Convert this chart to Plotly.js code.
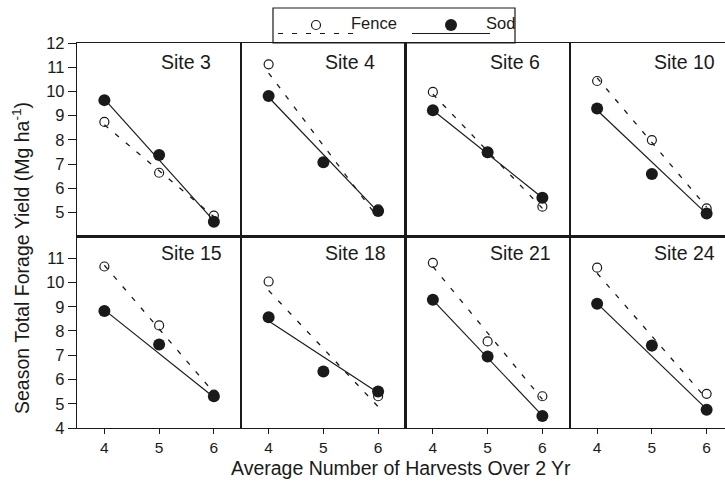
<!DOCTYPE html>
<html>
<head>
<meta charset="utf-8">
<script src="https://cdn.plot.ly/plotly-3.0.1.min.js"></script>
<style>
  html, body { margin: 0; padding: 0; overflow: hidden; background: #fff; }
  #chart { width: 740px; height: 483px; }
</style>
</head>
<body>
<div id="chart"></div>
<script>
// Season total forage yield vs. average number of harvests, by site
const sites = ['Site 3', 'Site 4', 'Site 6', 'Site 10', 'Site 15', 'Site 18', 'Site 21', 'Site 24'];
const harvests = [4, 5, 6];
const harvestTicks = [4, 5, 6];
const topRowTicks = [5, 6, 7, 8, 9, 10, 11, 12];
const bottomRowTicks = [4, 5, 6, 7, 8, 9, 10, 11];

// Observed yields (Mg/ha) at 4, 5 and 6 harvests
const fenceYield = [
  [8.74, 6.64, 4.87], [11.12, 7.05, 5.13], [9.98, 7.45, 5.24], [10.43, 7.99, 5.17],
  [10.66, 8.23, 5.38], [10.04, 6.35, 5.31], [10.81, 7.57, 5.31], [10.61, 7.36, 5.41]
];
const sodYield = [
  [9.64, 7.37, 4.62], [9.81, 7.07, 5.06], [9.22, 7.49, 5.61], [9.29, 6.59, 4.96],
  [8.82, 7.44, 5.31], [8.57, 6.33, 5.51], [9.29, 6.95, 4.49], [9.12, 7.40, 4.75]
];

// Fitted regression lines, value at 4 and at 6 harvests
const fitHarvests = [4, 6];
const fenceFit = [
  [8.62, 4.82], [10.76, 4.77], [9.89, 5.17], [10.56, 5.22],
  [10.71, 5.46], [9.67, 4.88], [10.66, 5.18], [10.38, 5.20]
];
const sodFit = [
  [9.68, 4.65], [9.76, 5.02], [9.22, 5.61], [9.22, 4.94],
  [8.87, 5.27], [8.41, 5.45], [9.27, 4.51], [9.14, 4.78]
];

const legendLabels = ['Fence', 'Sod'];

// ---- page geometry ----
const W = 740, H = 483;
const M = { l: 77, r: 6, t: 43, b: 55 };
const plotW = W - M.l - M.r, plotH = H - M.t - M.b;
const rowSplit = 0.497;
const yRanges = [[4, 12], [4, 11.89]];

const FONT = 'Liberation Sans, Arial, Helvetica, sans-serif';
const INK = '#1a1a1a';

// pixel -> paper helpers for the frame decorations
const px = v => (v - M.l) / plotW;
const py = v => (H - M.b - v) / plotH;

const traces = [];
const layout = {
  width: W, height: H,
  margin: M,
  paper_bgcolor: '#fff', plot_bgcolor: '#fff',
  showlegend: false,
  font: { family: FONT, size: 16, color: INK },
  annotations: [],
  shapes: []
};

sites.forEach((name, i) => {
  const col = i % 4, row = Math.floor(i / 4);
  const n = i === 0 ? '' : String(i + 1);
  const xa = 'x' + n, ya = 'y' + n;

  traces.push({
    x: harvests, y: fenceYield[i], xaxis: xa, yaxis: ya, mode: 'markers', cliponaxis: false,
    marker: { symbol: 'circle-open', size: 9, color: INK, line: { width: 1.2, color: INK } }
  });
  traces.push({
    x: fitHarvests, y: fenceFit[i], xaxis: xa, yaxis: ya, mode: 'lines',
    line: { color: INK, width: 1.3, dash: '5px,9px' }
  });
  traces.push({
    x: fitHarvests, y: sodFit[i], xaxis: xa, yaxis: ya, mode: 'lines',
    line: { color: INK, width: 1.2 }
  });
  traces.push({
    x: harvests, y: sodYield[i], xaxis: xa, yaxis: ya, mode: 'markers', cliponaxis: false,
    marker: { symbol: 'circle', size: 12, color: INK }
  });

  layout['xaxis' + n] = {
    domain: [col * 0.25, (col + 1) * 0.25], anchor: ya,
    range: [3.5, 6.5], showgrid: false, zeroline: false,
    showline: true, mirror: true, linecolor: INK, linewidth: 1.2,
    tickvals: row === 1 ? harvestTicks : [],
    ticks: row === 1 ? 'outside' : '', ticklen: 5, tickwidth: 1, tickcolor: INK,
    showticklabels: row === 1,
    tickfont: { family: FONT, size: 15.5, color: INK }
  };
  layout['yaxis' + n] = {
    domain: row === 0 ? [rowSplit, 1] : [0, rowSplit], anchor: xa,
    range: yRanges[row], showgrid: false, zeroline: false,
    showline: true, mirror: true, linecolor: INK, linewidth: 1.2,
    tickvals: col === 0 ? (row === 0 ? topRowTicks : bottomRowTicks) : [],
    ticks: col === 0 ? 'outside' : '', ticklen: 8, tickwidth: 1, tickcolor: INK,
    showticklabels: col === 0,
    tickfont: { family: FONT, size: 16.5, color: INK }
  };

  layout.annotations.push({
    text: name, xref: xa, yref: ya + ' domain',
    x: 5.0, y: row === 0 ? 0.90 : 0.913,
    xanchor: 'left', yanchor: 'middle', showarrow: false,
    font: { family: FONT, size: 19.5, color: INK }
  });
});

// axis titles shared by all panels
layout.annotations.push({
  text: 'Average Number of Harvests Over 2 Yr', xref: 'paper', yref: 'paper',
  x: px(401), y: py(468), xanchor: 'center', yanchor: 'middle', showarrow: false,
  font: { family: FONT, size: 19.5, color: INK }
});
layout.annotations.push({
  text: 'Season Total Forage Yield (Mg ha<sup>-1</sup>)', xref: 'paper', yref: 'paper',
  x: px(21), y: py(258), xanchor: 'center', yanchor: 'middle', textangle: -90, showarrow: false,
  font: { family: FONT, size: 19.5, color: INK }
});

// legend box above the panels
const lg = { x0: 273, x1: 515, y0: 8, y1: 43, lineY: 33.5, symY: 25, textY: 23 };
layout.shapes.push(
  { type: 'rect', xref: 'paper', yref: 'paper', x0: px(lg.x0), x1: px(lg.x1), y0: py(lg.y1), y1: py(lg.y0),
    line: { color: INK, width: 1.2 }, fillcolor: 'rgba(0,0,0,0)', layer: 'above' },
  { type: 'line', xref: 'paper', yref: 'paper', x0: px(278), x1: px(358), y0: py(lg.lineY), y1: py(lg.lineY),
    line: { color: INK, width: 1.2, dash: '5px,9px' } },
  { type: 'circle', xref: 'paper', yref: 'paper', x0: px(316 - 4.5), x1: px(316 + 4.5), y0: py(lg.symY + 4.5), y1: py(lg.symY - 4.5),
    line: { color: INK, width: 1.2 }, fillcolor: '#fff' },
  { type: 'line', xref: 'paper', yref: 'paper', x0: px(412), x1: px(490), y0: py(lg.lineY), y1: py(lg.lineY),
    line: { color: INK, width: 1.2 } },
  { type: 'circle', xref: 'paper', yref: 'paper', x0: px(451 - 6), x1: px(451 + 6), y0: py(lg.symY + 6), y1: py(lg.symY - 6),
    line: { color: INK, width: 0 }, fillcolor: INK }
);
layout.annotations.push(
  { text: legendLabels[0], xref: 'paper', yref: 'paper', x: px(349), y: py(lg.textY),
    xanchor: 'left', yanchor: 'middle', showarrow: false, font: { family: FONT, size: 16.5, color: INK } },
  { text: legendLabels[1], xref: 'paper', yref: 'paper', x: px(484), y: py(lg.textY),
    xanchor: 'left', yanchor: 'middle', showarrow: false, font: { family: FONT, size: 16.5, color: INK } }
);

Plotly.newPlot('chart', traces, layout, { displayModeBar: false, staticPlot: true });
</script>
</body>
</html>
